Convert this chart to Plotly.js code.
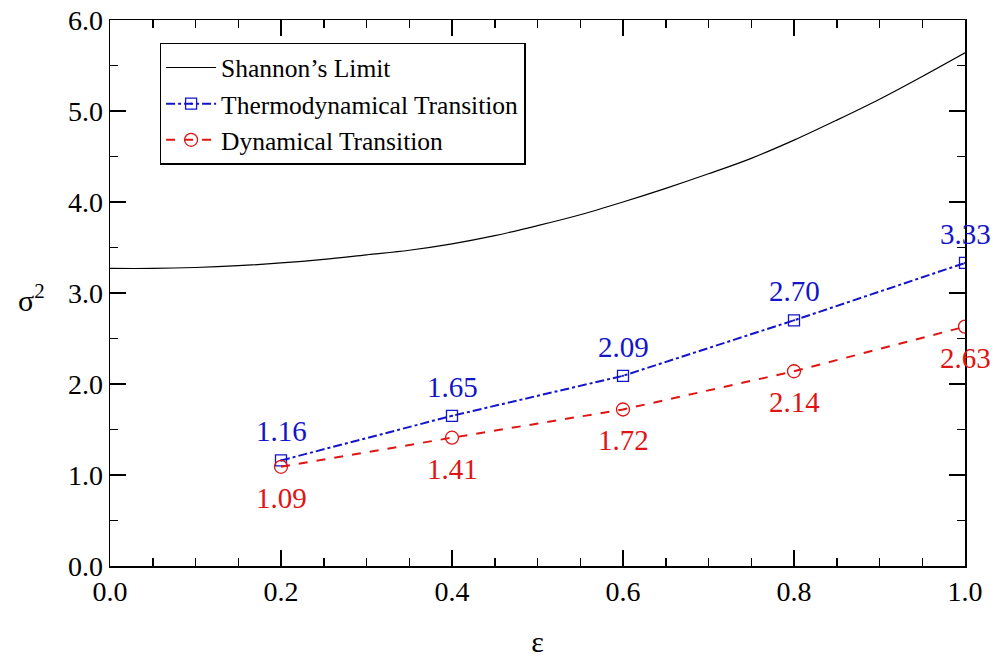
<!DOCTYPE html>
<html>
<head>
<meta charset="utf-8">
<script src="https://cdn.plot.ly/plotly-3.0.1.min.js"></script>
<style>html,body{margin:0;padding:0;background:#fff;}#chart{width:1007px;height:658px;}</style>
</head>
<body>
<div id="chart"></div>
<script>
// Shannon's limit curve
var shannonEps = [0, 0.05, 0.1, 0.15, 0.2, 0.25, 0.3, 0.35, 0.4, 0.45, 0.5, 0.55, 0.6, 0.65, 0.7, 0.75, 0.8, 0.85, 0.9, 0.95, 1.0];
var shannonSigma2 = [3.27, 3.27, 3.28, 3.30, 3.33, 3.37, 3.42, 3.47, 3.54, 3.63, 3.74, 3.86, 4.00, 4.15, 4.31, 4.48, 4.68, 4.90, 5.13, 5.38, 5.64];
// Transition points
var transEps = [0.2, 0.4, 0.6, 0.8, 1.0];
var thermoSigma2 = [1.16, 1.65, 2.09, 2.70, 3.33];
var dynSigma2 = [1.09, 1.41, 1.72, 2.14, 2.63];
var thermoLabels = ["1.16", "1.65", "2.09", "2.70", "3.33"];
var dynLabels = ["1.09", "1.41", "1.72", "2.14", "2.63"];
var seriesNames = ["Shannon\u2019s Limit", "Thermodynamical Transition", "Dynamical Transition"];

var BLUE = '#1414c8', RED = '#e01414';
var FONT = 'Liberation Serif';

var traces = [
  {x: shannonEps, y: shannonSigma2, mode: 'lines', name: seriesNames[0],
   line: {color: '#000', width: 1.2, shape: 'spline'}},
  {x: transEps, y: thermoSigma2, mode: 'lines+markers', name: seriesNames[1],
   line: {color: BLUE, width: 2, dash: 'dashdot'},
   marker: {symbol: 'square-open-dot', size: 11, color: BLUE, line: {color: BLUE, width: 1.3}}},
  {x: transEps, y: dynSigma2, mode: 'lines+markers', name: seriesNames[2],
   line: {color: RED, width: 2, dash: 'dash'},
   marker: {symbol: 'circle-open', size: 13, color: RED, line: {color: RED, width: 1.3}}}
];

var annotations = [];
transEps.forEach(function(e, i) {
  annotations.push({x: e, y: thermoSigma2[i], text: thermoLabels[i], showarrow: false,
    yshift: 29, font: {family: FONT, size: 29, color: BLUE}});
  annotations.push({x: e, y: dynSigma2[i], text: dynLabels[i], showarrow: false,
    yshift: -31, font: {family: FONT, size: 29, color: RED}});
});
// y-axis title drawn horizontally, as in the reference
annotations.push({xref: 'paper', yref: 'y', x: -0.092, y: 2.95, xanchor: 'center',
  text: '\u03c3<sup>2</sup>', showarrow: false, font: {family: FONT, size: 30, color: '#000'}});

var axisCommon = {
  showline: true, linecolor: '#000', linewidth: 1.5, mirror: 'ticks',
  ticks: 'inside', ticklen: 16, tickwidth: 1.5, tickcolor: '#000',
  showgrid: false, zeroline: false,
  tickfont: {family: FONT, size: 28, color: '#000'}
};

var layout = {
  width: 1007, height: 658,
  margin: {l: 110, r: 42, t: 20, b: 92},
  paper_bgcolor: '#fff', plot_bgcolor: '#fff',
  font: {family: FONT, color: '#000'},
  showlegend: true,
  legend: {x: 0.058, y: 0.958, xanchor: 'left', yanchor: 'top',
    bordercolor: '#000', borderwidth: 1.5, bgcolor: '#fff', itemwidth: 50,
    font: {family: FONT, size: 25.5, color: '#000'}, tracegroupgap: 0},
  xaxis: Object.assign({}, axisCommon, {
    range: [0, 1], dtick: 0.2, tickformat: '.1f',
    minor: {dtick: 0.05, ticks: 'inside', ticklen: 8, tickwidth: 1.5, tickcolor: '#000'},
    title: {text: '\u03b5', font: {family: FONT, size: 30}, standoff: 30}
  }),
  yaxis: Object.assign({}, axisCommon, {
    range: [0, 6], dtick: 1, tickformat: '.1f',
    minor: {dtick: 0.5, ticks: 'inside', ticklen: 8, tickwidth: 1.5, tickcolor: '#000'}
  }),
  annotations: annotations
};

Plotly.newPlot('chart', traces, layout, {displayModeBar: false, staticPlot: true});
</script>
</body>
</html>
